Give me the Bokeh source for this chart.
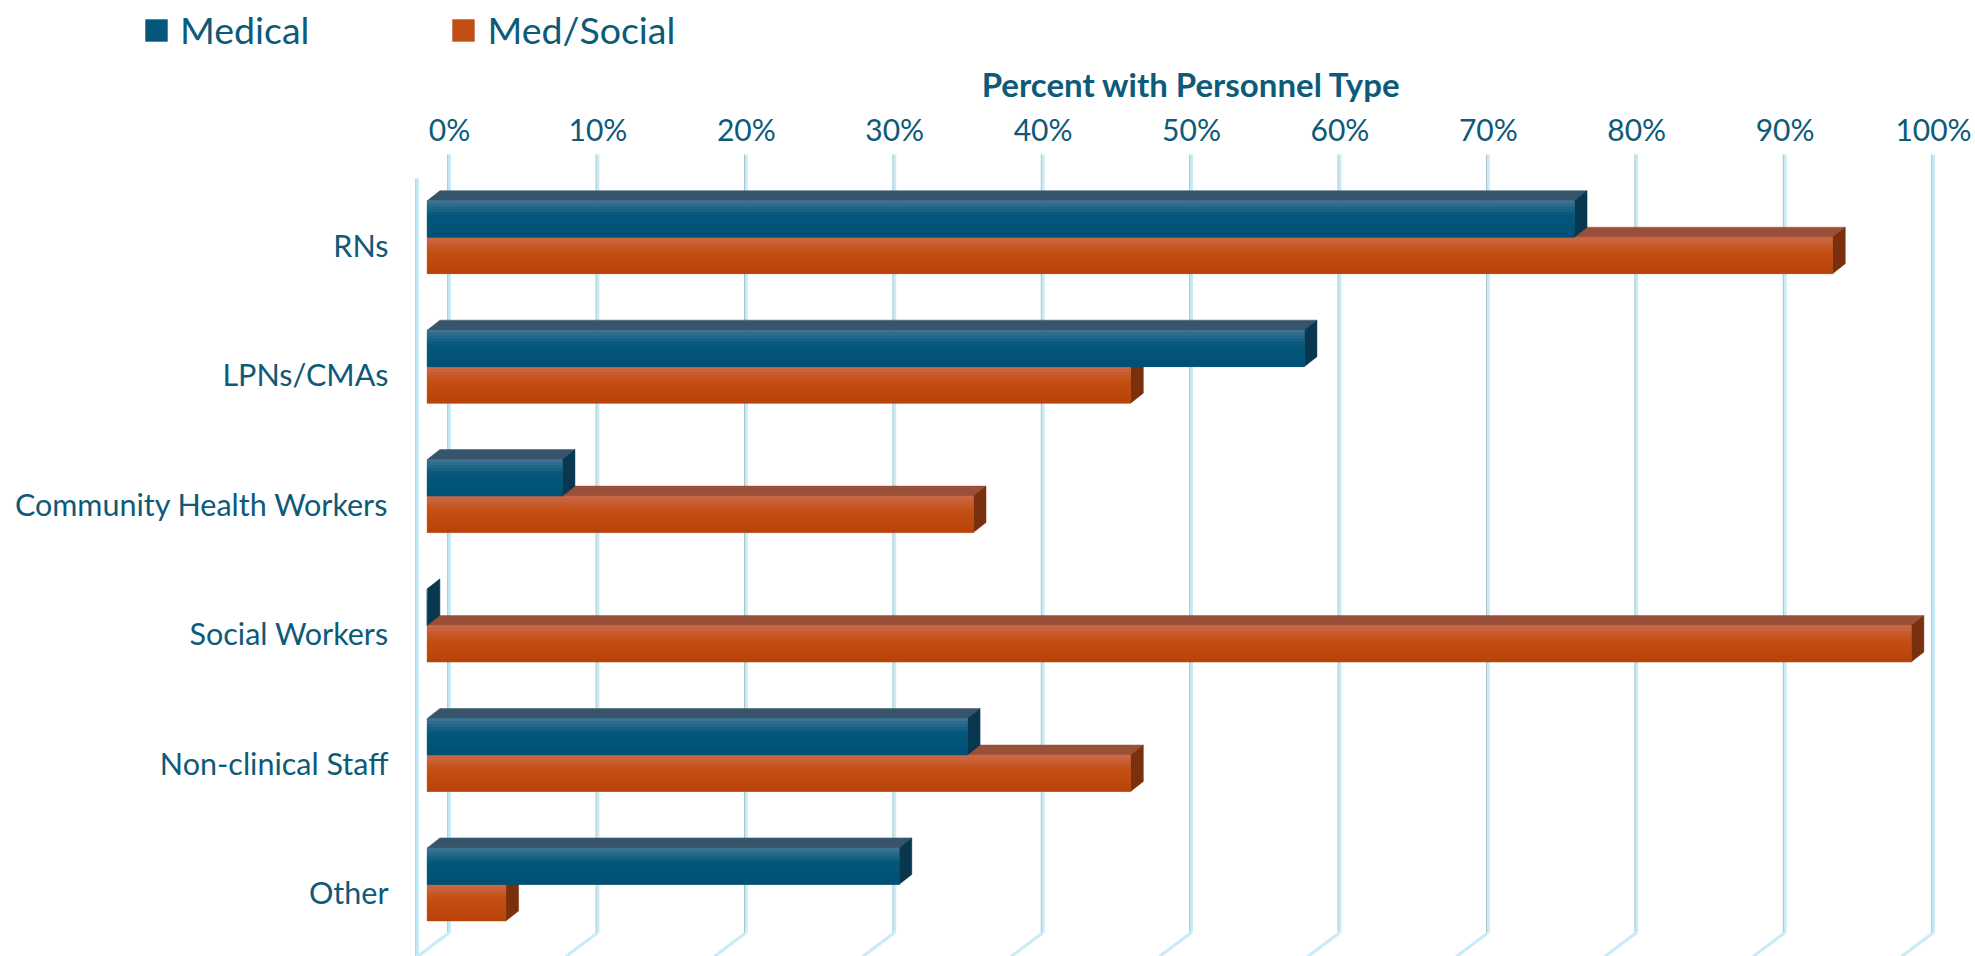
from bokeh.plotting import figure
from bokeh.models import Range1d, Legend, LegendItem
from bokeh.core.properties import value
from bokeh.embed import file_html
from bokeh.resources import INLINE

# ---------------- data ----------------
categories = ["RNs", "LPNs/CMAs", "Community Health Workers", "Social Workers",
              "Non-clinical Staff", "Other"]
medical = [77.3, 59.1, 9.1, 0.0, 36.4, 31.8]
med_social = [94.7, 47.4, 36.8, 100.0, 47.4, 5.3]
series_names = ["Medical", "Med/Social"]
x_ticks = [0, 10, 20, 30, 40, 50, 60, 70, 80, 90, 100]
x_tick_labels = ["0%", "10%", "20%", "30%", "40%", "50%", "60%", "70%", "80%", "90%", "100%"]
x_title = "Percent with Personnel Type"

# ---------------- layout constants (page pixels) ----------------
W, H = 1975, 956
X0_BACK = 449.0        # page x of 0% on the back wall
PX_PER_PCT = 14.84
Y_FIRST = 244.4        # page y of first category label
PX_PER_CAT = 129.45

n = len(categories)
Y_LAST = Y_FIRST + (n - 1) * PX_PER_CAT

def u_of(page_y):
    return (Y_LAST - page_y) / PX_PER_CAT

def x_of(page_x):
    return (page_x - X0_BACK) / PX_PER_PCT

def dxp(px):
    return px / PX_PER_PCT

def dyp(px):
    return px / PX_PER_CAT

TEXT = "#0d5a79"
FONT = "Lato"

p = figure(width=W, height=H, output_backend="svg", toolbar_location=None,
           x_range=Range1d(x_of(0), x_of(W)), y_range=Range1d(u_of(H), u_of(0)),
           x_axis_type=None, y_axis_type=None, min_border=0)
p.outline_line_color = None
p.grid.visible = False
p.background_fill_color = "white"
p.border_fill_color = "white"

# ---------------- 3D wall gridlines ----------------
GRID_TOP, GRID_BOT = 154, 932
FLOOR_DX, FLOOR_DY = -32, 24
gy0 = [u_of(GRID_TOP)] * len(x_ticks)
gy1 = [u_of(GRID_BOT)] * len(x_ticks)
p.segment(x0=x_ticks, y0=gy0, x1=x_ticks, y1=gy1, line_color="#c8ebf8", line_width=3)
p.segment(x0=[t - dxp(1.8) for t in x_ticks], y0=gy0,
          x1=[t - dxp(1.8) for t in x_ticks], y1=gy1, line_color="#a7c3cc", line_width=1)
p.segment(x0=x_ticks, y0=gy1, x1=[t + dxp(FLOOR_DX) for t in x_ticks],
          y1=[u_of(GRID_BOT + FLOOR_DY)] * len(x_ticks), line_color="#c8ebf8", line_width=3)
# left front edge
p.segment(x0=[dxp(FLOOR_DX)], y0=[u_of(GRID_TOP + FLOOR_DY)], x1=[dxp(FLOOR_DX)],
          y1=[u_of(H + 20)], line_color="#c8ebf8", line_width=3)
p.segment(x0=[dxp(FLOOR_DX) - dxp(1.8)], y0=[u_of(GRID_TOP + FLOOR_DY)],
          x1=[dxp(FLOOR_DX) - dxp(1.8)], y1=[u_of(H + 20)],
          line_color="#b0cad3", line_width=1)

# ---------------- 3D bars ----------------
FRONT_DX = -22.3    # front face offset from back wall (px)
DEPTH_X, DEPTH_Y = 12.7, 10.0
BAR_H = 36.5
CEN = 7.7           # bar pair centre above label (px)

styles = {
    0: dict(stops=[(0.0, (0x42, 0x76, 0x94)), (0.4, (0x05, 0x58, 0x7c)), (1.0, (0x00, 0x51, 0x75))],
            top="#37546a", side="#08374f"),
    1: dict(stops=[(0.0, (0xcb, 0x6b, 0x4a)), (0.4, (0xc4, 0x50, 0x16)), (1.0, (0xb8, 0x43, 0x0a))],
            top="#9a4f38", side="#7a2f0d"),
}

def interp(stops, t):
    for (t0, c0), (t1, c1) in zip(stops[:-1], stops[1:]):
        if t0 <= t <= t1:
            f = (t - t0) / (t1 - t0) if t1 > t0 else 0
            c = [round(a + (b - a) * f) for a, b in zip(c0, c1)]
            return "#%02x%02x%02x" % tuple(c)
    return "#%02x%02x%02x" % stops[-1][1]

NSTRIP = 12
legend_renderers = {}
for s, vals in ((1, med_social), (0, medical)):
    st = styles[s]
    left, right, top, bottom = [], [], [], []
    sl, sr, stt, sb, sc = [], [], [], [], []
    txs, tys, sxs, sys_ = [], [], [], []
    for i, v in enumerate(vals):
        c = (n - 1 - i) + dyp(CEN)
        if s == 0:
            yb, yt = c, c + dyp(BAR_H)
        else:
            yb, yt = c - dyp(BAR_H), c
        x0 = dxp(FRONT_DX)
        x1 = v + dxp(FRONT_DX)
        left.append(x0); right.append(x1); top.append(yt); bottom.append(yb)
        for k in range(NSTRIP):
            a = yt - (yt - yb) * k / NSTRIP
            b = yt - (yt - yb) * (k + 1) / NSTRIP
            sl.append(x0); sr.append(x1); stt.append(a); sb.append(b)
            sc.append(interp(st["stops"], (k + 0.5) / NSTRIP))
        ddx, ddy = dxp(DEPTH_X), dyp(DEPTH_Y)
        txs.append([x0, x1, x1 + ddx, x0 + ddx]); tys.append([yt, yt, yt + ddy, yt + ddy])
        sxs.append([x1, x1, x1 + ddx, x1 + ddx]); sys_.append([yb, yt, yt + ddy, yb + ddy])
    p.patches(xs=txs, ys=tys, fill_color=st["top"], line_color=st["top"], line_width=0.5)
    p.patches(xs=sxs, ys=sys_, fill_color=st["side"], line_color=st["side"], line_width=0.5)
    base = p.quad(left=left, right=right, top=top, bottom=bottom,
                  fill_color=interp(st["stops"], 0.5), line_color=None)
    p.quad(left=sl, right=sr, top=stt, bottom=sb, fill_color=sc, line_color=sc, line_width=0.5)
    legend_renderers[s] = base

# ---------------- axis texts ----------------
# value-axis tick labels (on the back wall scale)
p.text(x=x_ticks, y=[u_of(128.5)] * len(x_ticks), text=x_tick_labels,
       text_font=value(FONT), text_font_size="30px", text_color=TEXT,
       text_align="center", text_baseline="alphabetic")
# value-axis title, centred over the axis
p.text(x=[(x_ticks[0] + x_ticks[-1]) / 2], y=[u_of(83)], text=[x_title],
       text_font=value(FONT), text_font_style="bold", text_font_size="33px",
       text_color=TEXT, text_align="center", text_baseline="alphabetic")
# category labels
p.text(x=[x_of(388)] * n, y=[n - 1 - i for i in range(n)], text=categories,
       text_font=value(FONT), text_font_size="30.5px", text_color=TEXT,
       text_align="right", text_baseline="middle")

# ---------------- legend ----------------
legend = Legend(items=[LegendItem(label=series_names[0], renderers=[legend_renderers[0]]),
                       LegendItem(label=series_names[1], renderers=[legend_renderers[1]])],
                orientation="horizontal", location=(142, H - 52),
                padding=0, margin=0, spacing=140, label_standoff=10,
                glyph_width=28, glyph_height=28,
                border_line_color=None, background_fill_alpha=0,
                label_text_font=FONT, label_text_font_size="37.5px", label_text_color=TEXT)
p.add_layout(legend)

open("out.html", "w").write(file_html(p, INLINE))
